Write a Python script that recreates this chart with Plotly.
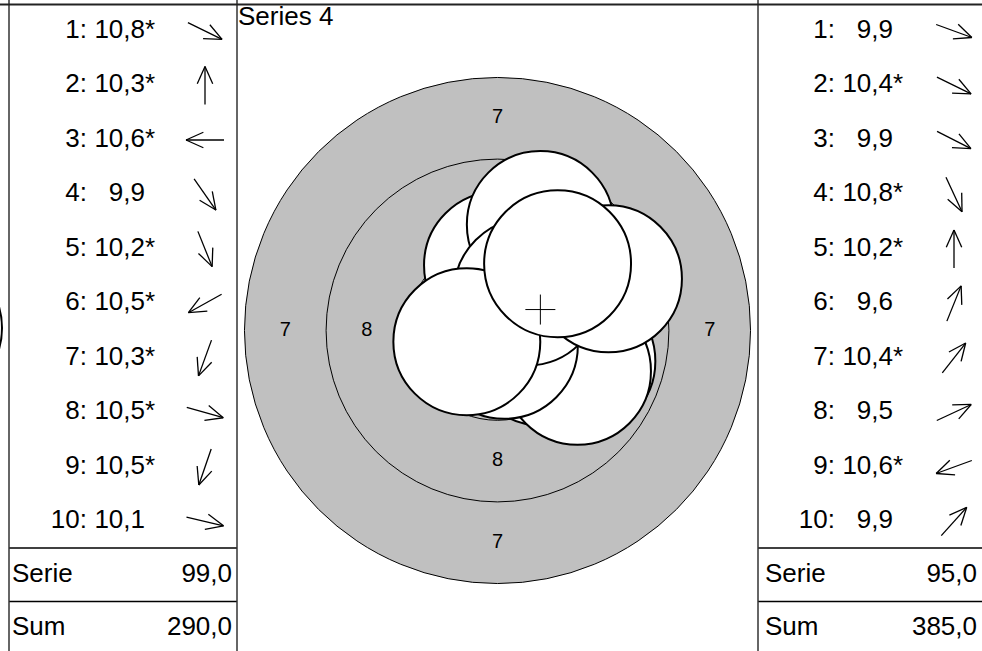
import numpy as np
import plotly.graph_objects as go

# ---------------- data ----------------
shot_numbers = list(range(1, 11))

left_scores = [10.8, 10.3, 10.6, 9.9, 10.2, 10.5, 10.3, 10.5, 10.5, 10.1]
left_inner = [True, True, True, False, True, True, True, True, True, False]
left_angles = [-26, 90, 180, -55, -68, 209, 250, -16, 251, -13]   # arrow direction, degrees
left_total = 290.0

right_scores = [9.9, 10.4, 9.9, 10.8, 10.2, 9.6, 10.4, 9.5, 10.6, 9.9]
right_inner = [False, True, False, True, True, False, True, False, True, False]
right_angles = [-20, -26, -27, -65, 90, 68, 52, 25, 200, 48]
right_total = 385.0

ring_values = [7, 8, 9, 10]
ring_radii_mm = [7.75, 5.25, 2.75, 0.25]
pellet_radius_mm = 2.25
mm_per_decimal_point = 2.5
series_title = "Series 4"
row_labels = ["Serie", "Sum"]

# ---------------- layout constants (pixels) ----------------
W, H = 982, 651
FONT = "Liberation Sans, Arial, sans-serif"
PX_PER_MM = 32.65
CX, CY = 497.5, 330.5
CENTER_L, CENTER_R = 237, 758
ROW0, ROW_H = 31, 54.5
SEP1, SEP2 = 548, 601.5
SERIE_Y, SUM_Y = 575.5, 628.5
ARROW_LEN, HEAD_LEN, HEAD_ANG = 38, 19, 24

panels = [
    dict(scores=left_scores, inner=left_inner, angles=left_angles, total=left_total,
         line_l=9, line_r=237, colon=87, num=145, arrow=205, label=12, total_r=232),
    dict(scores=right_scores, inner=right_inner, angles=right_angles, total=right_total,
         line_l=758, line_r=982, colon=835, num=893, arrow=954, label=765, total_r=977),
]


def fmt(v):
    return f"{v:.1f}".replace(".", ",")


fig = go.Figure()

# ---------- target subplot (mm units) ----------
x_rng = [(CENTER_L - CX) / PX_PER_MM, (CENTER_R - CX) / PX_PER_MM]
y_rng = [-(H - CY) / PX_PER_MM, CY / PX_PER_MM]

shapes = []
shapes.append(dict(type="circle", xref="x", yref="y", layer="below",
                   x0=-ring_radii_mm[0], x1=ring_radii_mm[0], y0=-ring_radii_mm[0], y1=ring_radii_mm[0],
                   fillcolor="#c0c0c0", line=dict(color="black", width=1)))
for r in ring_radii_mm[1:]:
    shapes.append(dict(type="circle", xref="x", yref="y", layer="below",
                       x0=-r, x1=r, y0=-r, y1=r, line=dict(color="black", width=1)))

# ring labels mid-way between rings
lx, ly, lt = [], [], []
for i, val in enumerate(ring_values[:2]):
    rm = (ring_radii_mm[i] + ring_radii_mm[i + 1]) / 2
    for dx, dy in [(0, 1), (0, -1), (-1, 0), (1, 0)]:
        lx.append(dx * rm)
        ly.append(dy * rm)
        lt.append(str(val))
fig.add_trace(go.Scatter(x=lx, y=ly, text=lt, mode="text", xaxis="x", yaxis="y",
                         textfont=dict(family=FONT, size=20, color="black"),
                         hoverinfo="skip", showlegend=False))

# shots of the shown series (right panel) from score and direction
rs = np.array(right_scores)
ang = np.radians(right_angles)
dist = (11 - rs) * mm_per_decimal_point
sx = dist * np.cos(ang)
sy = dist * np.sin(ang)
for x, y in zip(sx, sy):
    shapes.append(dict(type="circle", xref="x", yref="y", layer="above",
                       x0=x - pellet_radius_mm, x1=x + pellet_radius_mm,
                       y0=y - pellet_radius_mm, y1=y + pellet_radius_mm,
                       fillcolor="white", line=dict(color="black", width=2)))
mx, my = sx.mean(), sy.mean()
c = 15 / PX_PER_MM
shapes.append(dict(type="line", xref="x", yref="y", layer="above", x0=mx - c, x1=mx + c, y0=my, y1=my,
                   line=dict(color="black", width=1)))
shapes.append(dict(type="line", xref="x", yref="y", layer="above", x0=mx, x1=mx, y0=my - c, y1=my + c,
                   line=dict(color="black", width=1)))

# ---------- panel subplot (pixel units) ----------
def ptext(x, y, text, pos, size=26):
    fig.add_trace(go.Scatter(x=x, y=y, text=text, mode="text", xaxis="x2", yaxis="y2",
                             textposition=pos, cliponaxis=False,
                             textfont=dict(family=FONT, size=size, color="black"),
                             hoverinfo="skip", showlegend=False))


for p in panels:
    rows_y = [ROW0 + i * ROW_H for i in range(len(shot_numbers))]
    ptext([p["colon"]] * 10, rows_y, [f"{n}:" for n in shot_numbers], "middle left")
    ptext([p["num"]] * 10, rows_y, [fmt(s) for s in p["scores"]], "middle left")
    sy_ = [y for y, f in zip(rows_y, p["inner"]) if f]
    ptext([p["num"]] * len(sy_), sy_, ["*"] * len(sy_), "middle right")
    serie = float(sum(int(s) for s in p["scores"]))
    ptext([p["label"]] * 2, [SERIE_Y, SUM_Y], row_labels, "middle right")
    ptext([p["total_r"]] * 2, [SERIE_Y, SUM_Y], [fmt(serie), fmt(p["total"])], "middle left")
    # arrows
    ax, ay = [], []
    for y0, a in zip(rows_y, p["angles"]):
        t = np.radians(a)
        ux, uy = np.cos(t), -np.sin(t)
        tipx, tipy = p["arrow"] + ux * ARROW_LEN / 2, y0 + uy * ARROW_LEN / 2
        tailx, taily = p["arrow"] - ux * ARROW_LEN / 2, y0 - uy * ARROW_LEN / 2
        ax += [tailx, tipx, None]
        ay += [taily, tipy, None]
        for s in (1, -1):
            h = np.radians(a + 180 + s * HEAD_ANG)
            ax += [tipx, tipx + np.cos(h) * HEAD_LEN, None]
            ay += [tipy, tipy - np.sin(h) * HEAD_LEN, None]
    fig.add_trace(go.Scatter(x=ax, y=ay, mode="lines", xaxis="x2", yaxis="y2",
                             line=dict(color="black", width=1.3), hoverinfo="skip", showlegend=False))
    for yl in (SEP1, SEP2):
        shapes.append(dict(type="line", xref="x2", yref="y2", x0=p["line_l"], x1=p["line_r"], y0=yl, y1=yl,
                           line=dict(color="black", width=1.5)))

ptext([CENTER_L + 1], [18], [series_title], "middle right")

# panel frame lines
for xl in (9, CENTER_L, CENTER_R):
    shapes.append(dict(type="line", xref="x2", yref="y2", x0=xl, x1=xl, y0=0, y1=H,
                       line=dict(color="#333", width=1.5)))
shapes.append(dict(type="line", xref="x2", yref="y2", x0=0, x1=W, y0=4.5, y1=4.5,
                   line=dict(color="#222", width=2)))
# edge of neighbouring target visible at the left border
shapes.append(dict(type="circle", xref="x2", yref="y2", x0=-144, x1=2, y0=255, y1=401,
                   line=dict(color="black", width=2)))

fig.update_layout(
    width=W, height=H, margin=dict(l=0, r=0, t=0, b=0),
    paper_bgcolor="white", plot_bgcolor="rgba(0,0,0,0)",
    xaxis=dict(domain=[CENTER_L / W, CENTER_R / W], range=x_rng, visible=False, fixedrange=True),
    yaxis=dict(domain=[0, 1], range=y_rng, visible=False, fixedrange=True),
    xaxis2=dict(domain=[0, 1], range=[0, W], visible=False, anchor="y2"),
    yaxis2=dict(domain=[0, 1], range=[H, 0], visible=False, anchor="x2"),
    shapes=shapes, showlegend=False,
)
fig.write_html("out.html", config={"displayModeBar": False},
               post_script="document.body.style.margin='0';document.body.style.overflow='hidden';")
